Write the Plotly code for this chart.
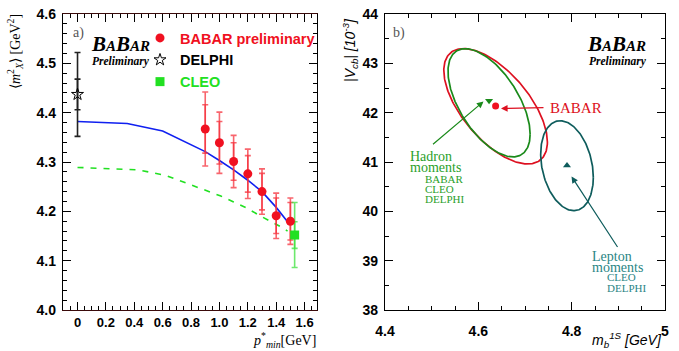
import numpy as np
import plotly.graph_objects as go

W, H = 679, 351

# ---------------- Panel a) data ----------------
babar_p = [0.9, 1.0, 1.1, 1.2, 1.3, 1.4, 1.5]
babar_m2 = [4.367, 4.339, 4.301, 4.276, 4.240, 4.191, 4.180]
babar_stat = [0.049, 0.043, 0.038, 0.037, 0.037, 0.036, 0.038]
babar_tot = [0.075, 0.062, 0.053, 0.050, 0.046, 0.046, 0.047]

delphi_p = [0.0]
delphi_m2 = [4.437]
delphi_stat = [0.031]
delphi_tot = [0.085]

cleo_p = [1.53]
cleo_m2 = [4.152]
cleo_stat = [0.027]
cleo_tot = [0.066]

blue_p = [0.0, 0.35, 0.6, 0.9, 1.0, 1.1, 1.2, 1.3, 1.4, 1.48]
blue_m2 = [4.382, 4.378, 4.363, 4.321, 4.303, 4.284, 4.263, 4.240, 4.208, 4.179]
green_p = [0.0, 0.43, 0.62, 0.81, 0.91, 1.01, 1.10, 1.19, 1.28, 1.36, 1.45, 1.48]
green_m2 = [4.289, 4.284, 4.273, 4.253, 4.241, 4.231, 4.219, 4.207, 4.192, 4.180, 4.166, 4.160]

a_xticks = [0, 0.2, 0.4, 0.6, 0.8, 1.0, 1.2, 1.4, 1.6]
a_xticklabels = ["0", "0.2", "0.4", "0.6", "0.8", "1.0", "1.2", "1.4", "1.6"]
a_yticks = [4.0, 4.1, 4.2, 4.3, 4.4, 4.5, 4.6]
a_yticklabels = ["4.0", "4.1", "4.2", "4.3", "4.4", "4.5", "4.6"]

# ---------------- Panel b) data ----------------
# ellipse: centre mb, centre Vcb, half-width mb, half-width Vcb, correlation
babar_ell = [4.637, 42.13, 0.111, 1.17, -0.62]
hadron_ell = [4.623, 42.20, 0.088, 1.097, -0.58]
lepton_ell = [4.790, 40.925, 0.0564, 0.912, -0.26]

babar_fit = [4.637, 42.135]
hadron_fit = [4.623, 42.24]
lepton_fit = [4.790, 40.93]

b_xticks = [4.4, 4.6, 4.8, 5.0]
b_xticklabels = ["4.4", "4.6", "4.8", "5"]
b_yticks = [38, 39, 40, 41, 42, 43, 44]
b_yticklabels = ["38", "39", "40", "41", "42", "43", "44"]

RED = "#f01020"
RED_ERR = "rgba(245,50,60,0.75)"
GREEN_A = "#22e022"
GREEN_ERR = "rgba(60,225,60,0.75)"
BLUE = "#1020f0"
ELL_RED = "#dd1020"
ELL_GREEN = "#1a8a1a"
ELL_TEAL = "#0e5c5c"
TXT_GREEN = "#2aa02a"
TXT_TEAL = "#2a8585"


def ellipse(p, n=240):
    cx, cy, sx, sy, rho = p
    t = np.linspace(0, 2 * np.pi, n)
    x = cx + sx * np.cos(t)
    y = cy + sy * (rho * np.cos(t) + np.sqrt(1 - rho ** 2) * np.sin(t))
    return x, y


def px(x):
    return x / W


def py(y):
    return 1 - y / H


fig = go.Figure()

# ---- panel a traces ----
fig.add_trace(go.Scatter(x=blue_p, y=blue_m2, mode="lines", line=dict(color=BLUE, width=1.6),
                         showlegend=False, xaxis="x", yaxis="y"))
fig.add_trace(go.Scatter(x=green_p, y=green_m2, mode="lines", line=dict(color=GREEN_A, width=1.6, dash="6px,7px"),
                         showlegend=False, xaxis="x", yaxis="y"))

for xs, ys, st, tot, col in [
    (delphi_p, delphi_m2, delphi_stat, delphi_tot, "#222222"),
    (babar_p, babar_m2, babar_stat, babar_tot, RED_ERR),
    (cleo_p, cleo_m2, cleo_stat, cleo_tot, GREEN_ERR),
]:
    fig.add_trace(go.Scatter(x=xs, y=ys, mode="markers", marker=dict(size=1, opacity=0),
                             error_y=dict(type="data", array=tot, color=col, thickness=1.6, width=3),
                             showlegend=False, hoverinfo="skip", xaxis="x", yaxis="y"))
    fig.add_trace(go.Scatter(x=xs, y=ys, mode="markers", marker=dict(size=1, opacity=0),
                             error_y=dict(type="data", array=st, color=col, thickness=1.6, width=3),
                             showlegend=False, hoverinfo="skip", xaxis="x", yaxis="y"))

fig.add_trace(go.Scatter(x=babar_p, y=babar_m2, mode="markers", name="<span style='color:#f01020'>BABAR preliminary</span>",
                         marker=dict(symbol="circle", size=9, color=RED), xaxis="x", yaxis="y"))
fig.add_trace(go.Scatter(x=delphi_p, y=delphi_m2, mode="markers", name="DELPHI",
                         marker=dict(symbol="star-open", size=9, color="black", line=dict(width=1, color="black")),
                         xaxis="x", yaxis="y"))
fig.add_trace(go.Scatter(x=cleo_p, y=cleo_m2, mode="markers", name="<span style='color:#22e022'>CLEO</span>",
                         marker=dict(symbol="square", size=9, color=GREEN_A), xaxis="x", yaxis="y"))

# ---- panel b traces ----
for p, col in [(babar_ell, ELL_RED), (hadron_ell, ELL_GREEN), (lepton_ell, ELL_TEAL)]:
    ex, ey = ellipse(p)
    fig.add_trace(go.Scatter(x=ex, y=ey, mode="lines", line=dict(color=col, width=1.7),
                             showlegend=False, xaxis="x2", yaxis="y2"))
fig.add_trace(go.Scatter(x=[babar_fit[0]], y=[babar_fit[1]], mode="markers",
                         marker=dict(symbol="circle", size=7, color=RED), showlegend=False, xaxis="x2", yaxis="y2"))
fig.add_trace(go.Scatter(x=[hadron_fit[0]], y=[hadron_fit[1]], mode="markers",
                         marker=dict(symbol="triangle-down", size=7, color=ELL_GREEN), showlegend=False, xaxis="x2", yaxis="y2"))
fig.add_trace(go.Scatter(x=[lepton_fit[0]], y=[lepton_fit[1]], mode="markers",
                         marker=dict(symbol="triangle-up", size=7, color=ELL_TEAL), showlegend=False, xaxis="x2", yaxis="y2"))

TICKFONT = dict(family="Liberation Sans", size=14, color="black", weight="bold")
axis_common = dict(showgrid=False, zeroline=False, showline=True, linecolor="black", linewidth=1.3,
                   ticks="inside", ticklen=8, tickwidth=1, tickcolor="black", tickfont=TICKFONT,
                   automargin=False)

fig.update_layout(
    width=W, height=H, margin=dict(l=0, r=0, t=0, b=0, autoexpand=False),
    paper_bgcolor="white", plot_bgcolor="white",
    xaxis=dict(domain=[63 / W, 317 / W], range=[-0.1023, 1.6876], anchor="y", mirror="ticks",
               tickvals=a_xticks, ticktext=a_xticklabels,
               minor=dict(dtick=0.05, tick0=0, ticks="inside", ticklen=4, tickcolor="black"),
               **{**axis_common, "tickfont": dict(TICKFONT, size=13), "linecolor": "#3a0a0a"}),
    yaxis=dict(domain=[1 - 310 / H, 1 - 14 / H], range=[4.0, 4.6], anchor="x", mirror="ticks",
               tickvals=a_yticks, ticktext=a_yticklabels,
               minor=dict(dtick=0.02, tick0=4.0, ticks="inside", ticklen=4, tickcolor="black"),
               ticklabelstandoff=3, **axis_common),
    xaxis2=dict(domain=[385 / W, 665 / W], range=[4.4, 5.0], anchor="y2", mirror="ticks",
                tickvals=b_xticks, ticktext=b_xticklabels, ticklabelstandoff=8,
                minor=dict(dtick=0.05, tick0=4.4, ticks="inside", ticklen=4, tickcolor="black"),
                **axis_common),
    yaxis2=dict(domain=[1 - 310 / H, 1 - 14 / H], range=[38, 44], anchor="x2", mirror="ticks",
                tickvals=b_yticks, ticktext=b_yticklabels, ticklabelstandoff=3,
                minor=dict(dtick=0.5, tick0=38, ticks="inside", ticklen=4, tickcolor="black"),
                **axis_common),
    legend=dict(x=px(140), y=py(22), xanchor="left", yanchor="top", bgcolor="rgba(0,0,0,0)",
                font=dict(family="Liberation Sans", size=14.5, color="black", weight="bold"),
                itemwidth=30, tracegroupgap=0),
    showlegend=True,
)

SERIF = "Liberation Serif"
ann = []


def text(x, y, s, size, color="black", family=SERIF, xanchor="left", angle=0):
    ann.append(dict(xref="paper", yref="paper", x=px(x), y=py(y), text=s, showarrow=False,
                    xanchor=xanchor, yanchor="middle", textangle=angle,
                    font=dict(family=family, size=size, color=color)))


# axis titles
text(15, 52, "⟨<i>m</i><sup>2</sup><sub><i>X</i></sub>⟩ [GeV<sup>2</sup>]", 14, xanchor="center", angle=-90)
text(318, 340, "<i>p</i><sup>*</sup><sub><i>min</i></sub>[GeV]", 14, xanchor="right")
text(350, 50, "<i>|V<sub>cb</sub>| [10<sup>-3</sup>]</i>", 14, family="Liberation Sans", xanchor="center", angle=-90)
text(664, 340, "<i>m<sub>b</sub><sup>1S</sup> [GeV]</i>", 14, family="Liberation Sans", xanchor="right")

# panel labels
text(71, 33, "a)", 14, color="#555555")
text(391, 33, "b)", 14, color="#555555")

# BaBar logos
logo = "<b><i>B<span style='font-size:15px'>A</span>B<span style='font-size:15px'>AR</span></i></b>"
text(89, 44, logo, 21)
text(90, 61, "<b><i>Preliminary</i></b>", 11.5)
text(585, 44, logo, 21)
text(587, 61, "<b><i>Preliminary</i></b>", 11.5)

# panel b labels
text(548, 108, "BABAR", 15, color=ELL_RED)
text(408, 156, "Hadron", 14, color=TXT_GREEN)
text(408, 167, "moments", 14, color=TXT_GREEN)
text(423, 178.5, "BABAR", 11, color=TXT_GREEN)
text(423, 188.5, "CLEO", 11, color=TXT_GREEN)
text(423, 198.5, "DELPHI", 11, color=TXT_GREEN)
text(590, 256, "Lepton", 14, color=TXT_TEAL)
text(590, 267, "moments", 14, color=TXT_TEAL)
text(605, 277, "CLEO", 11, color=TXT_TEAL)
text(605, 288, "DELPHI", 11, color=TXT_TEAL)


def arrow(hx, hy, tx, ty, color):
    ann.append(dict(xref="paper", yref="paper", x=px(hx), y=py(hy), ax=tx - hx, ay=ty - hy,
                    axref="pixel", ayref="pixel", text="", showarrow=True, arrowhead=2,
                    arrowsize=1.1, arrowwidth=1.2, arrowcolor=color))


arrow(501, 108.5, 545, 107.5, ELL_RED)
arrow(483.5, 101.5, 431.5, 145.5, ELL_GREEN)
arrow(571.5, 176.5, 618.5, 248.5, ELL_TEAL)

fig.update_layout(annotations=ann)
fig.write_html("out.html", config={"displayModeBar": False},
               post_script="document.body.style.margin='0px';document.body.style.overflow='hidden';")
